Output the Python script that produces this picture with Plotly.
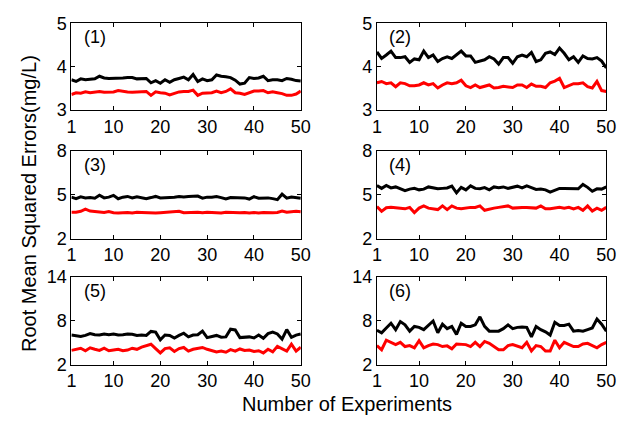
import plotly.graph_objects as go
from plotly.subplots import make_subplots

experiments = list(range(1, 51))

p1_black = [3.70, 3.66, 3.72, 3.70, 3.71, 3.72, 3.78, 3.74, 3.73, 3.73, 3.73, 3.74, 3.75, 3.75, 3.72, 3.72, 3.73, 3.63, 3.68, 3.62,
            3.70, 3.64, 3.70, 3.73, 3.76, 3.70, 3.82, 3.66, 3.72, 3.68, 3.70, 3.81, 3.78, 3.77, 3.75, 3.69, 3.60, 3.62, 3.75, 3.73,
            3.74, 3.78, 3.68, 3.70, 3.70, 3.68, 3.73, 3.71, 3.68, 3.67]
p1_red = [3.36, 3.40, 3.39, 3.42, 3.40, 3.42, 3.43, 3.41, 3.42, 3.42, 3.45, 3.43, 3.42, 3.41, 3.42, 3.43, 3.43, 3.34, 3.42, 3.40,
          3.39, 3.35, 3.39, 3.42, 3.43, 3.43, 3.46, 3.34, 3.39, 3.40, 3.40, 3.44, 3.40, 3.43, 3.49, 3.40, 3.39, 3.36, 3.40, 3.44,
          3.44, 3.45, 3.40, 3.42, 3.40, 3.38, 3.34, 3.34, 3.37, 3.44]

p2_black = [4.34, 4.19, 4.27, 4.36, 4.21, 4.21, 4.23, 4.10, 4.18, 4.16, 4.36, 4.21, 4.27, 4.12, 4.19, 4.23, 4.19, 4.27, 4.36, 4.25,
            4.25, 4.10, 4.13, 4.16, 4.23, 4.18, 4.06, 4.21, 4.21, 4.08, 4.23, 4.27, 4.23, 4.33, 4.12, 4.16, 4.31, 4.34, 4.28, 4.43,
            4.31, 4.16, 4.23, 4.10, 4.25, 4.19, 4.18, 4.21, 4.13, 3.97]
p2_red = [3.63, 3.66, 3.61, 3.63, 3.54, 3.63, 3.61, 3.56, 3.56, 3.58, 3.63, 3.58, 3.61, 3.51, 3.58, 3.63, 3.61, 3.63, 3.69, 3.56,
          3.52, 3.58, 3.52, 3.55, 3.58, 3.51, 3.52, 3.55, 3.54, 3.52, 3.58, 3.58, 3.52, 3.60, 3.55, 3.55, 3.52, 3.63, 3.67, 3.73,
          3.52, 3.56, 3.61, 3.61, 3.63, 3.54, 3.51, 3.66, 3.45, 3.43]

p3_black = [4.85, 4.75, 4.87, 4.80, 4.82, 4.78, 4.98, 4.80, 4.85, 4.97, 4.74, 4.85, 4.90, 4.80, 4.88, 4.82, 4.75, 4.82, 4.90, 4.80,
            4.80, 4.83, 4.85, 4.90, 4.86, 4.90, 4.92, 4.92, 4.78, 4.85, 4.85, 4.90, 4.82, 4.72, 4.82, 4.82, 4.84, 4.80, 4.72, 4.88,
            4.78, 4.80, 4.80, 4.75, 4.68, 5.05, 4.78, 4.86, 4.80, 4.78]
p3_red = [3.82, 3.82, 3.88, 4.03, 3.90, 3.85, 3.85, 3.80, 3.86, 3.78, 3.76, 3.78, 3.80, 3.76, 3.82, 3.80, 3.78, 3.76, 3.76, 3.78,
          3.80, 3.80, 3.85, 3.88, 3.78, 3.80, 3.85, 3.82, 3.78, 3.82, 3.80, 3.80, 3.76, 3.82, 3.80, 3.80, 3.78, 3.80, 3.77, 3.80,
          3.76, 3.80, 3.77, 3.78, 3.80, 3.90, 3.82, 3.85, 3.88, 3.85]

p4_black = [5.65, 5.45, 5.65, 5.48, 5.55, 5.42, 5.30, 5.40, 5.45, 5.35, 5.40, 5.55, 5.50, 5.42, 5.45, 5.48, 5.60, 5.15, 5.52, 5.35,
            5.62, 5.45, 5.42, 5.50, 5.35, 5.55, 5.50, 5.55, 5.45, 5.50, 5.60, 5.48, 5.62, 5.50, 5.38, 5.40, 5.35, 5.20, 5.35, 5.45,
            5.45, 5.45, 5.45, 5.42, 5.72, 5.52, 5.25, 5.42, 5.40, 5.55]
p4_red = [4.20, 3.88, 4.12, 4.15, 4.12, 4.10, 4.05, 4.15, 3.80, 4.10, 4.25, 4.10, 4.05, 4.00, 4.25, 4.00, 4.25, 4.10, 4.05, 4.12,
          4.15, 4.15, 4.25, 3.95, 4.05, 4.10, 4.15, 4.20, 4.25, 4.10, 4.15, 4.15, 4.15, 4.15, 4.10, 4.25, 4.05, 4.05, 4.10, 4.15,
          4.10, 4.15, 4.05, 4.15, 3.95, 4.25, 3.90, 4.10, 3.95, 4.15]

p5_black = [6.05, 5.95, 5.85, 6.00, 6.25, 6.10, 6.05, 6.20, 6.10, 6.20, 6.05, 6.10, 6.20, 6.15, 6.00, 6.05, 6.00, 6.55, 6.45, 5.40,
            6.05, 6.00, 5.65, 6.00, 6.30, 5.80, 6.05, 6.10, 6.60, 5.70, 5.80, 6.00, 5.75, 5.80, 6.85, 6.75, 5.70, 5.70, 5.80, 5.65,
            6.05, 5.60, 6.25, 6.45, 6.20, 5.50, 6.80, 5.75, 6.05, 6.20]
p5_red = [3.95, 4.05, 4.25, 3.90, 4.30, 4.10, 3.95, 4.25, 3.90, 4.00, 4.10, 3.90, 4.00, 4.25, 4.10, 4.40, 4.55, 4.80, 4.20, 3.60,
          4.20, 4.30, 3.80, 4.20, 4.35, 3.85, 4.10, 4.20, 4.35, 4.10, 3.95, 3.75, 3.85, 3.70, 4.05, 3.85, 4.15, 3.95, 4.00, 3.80,
          3.90, 3.60, 4.10, 3.75, 4.50, 4.20, 3.85, 4.80, 3.85, 4.40]

p6_black = [6.71, 6.36, 7.01, 7.67, 6.79, 7.89, 7.45, 6.58, 7.23, 7.10, 6.79, 7.45, 7.97, 6.36, 7.54, 6.93, 7.23, 6.14, 7.67, 7.23,
            7.23, 7.45, 8.54, 7.23, 6.58, 6.58, 6.58, 6.93, 7.45, 6.93, 7.10, 7.15, 7.10, 5.80, 7.23, 6.79, 6.49, 6.05, 7.80, 7.36,
            7.36, 7.54, 6.58, 6.66, 6.58, 6.79, 7.01, 8.24, 7.54, 6.58]
p6_red = [4.61, 4.04, 5.35, 5.05, 4.74, 5.05, 4.48, 4.61, 4.31, 5.27, 4.31, 4.61, 4.83, 4.74, 4.48, 4.57, 4.17, 4.83, 4.74, 4.74,
          4.48, 5.05, 4.48, 5.18, 4.92, 4.48, 4.04, 4.04, 4.61, 4.74, 4.48, 4.31, 5.05, 3.87, 4.61, 4.48, 3.87, 3.87, 5.35, 4.31,
          5.05, 4.74, 4.48, 4.48, 4.83, 4.92, 4.61, 4.31, 4.74, 5.05]

panels = [
    ("(1)", p1_black, p1_red, [3, 5], [3, 4, 5]),
    ("(2)", p2_black, p2_red, [3, 5], [3, 4, 5]),
    ("(3)", p3_black, p3_red, [2, 8], [2, 5, 8]),
    ("(4)", p4_black, p4_red, [2, 8], [2, 5, 8]),
    ("(5)", p5_black, p5_red, [2, 14], [2, 8, 14]),
    ("(6)", p6_black, p6_red, [2, 14], [2, 8, 14]),
]
x_ticks = [1, 10, 20, 30, 40, 50]

W, H = 630, 429
col_px = [(68, 303), (381, 616)]
row_px = [(14, 105), (148, 240), (280, 372)]

FONT = "Liberation Sans, Arial, sans-serif"
fig = make_subplots(rows=3, cols=2)

for i, (label, blk, red, yr, yt) in enumerate(panels):
    r, c = i // 2 + 1, i % 2 + 1
    fig.add_trace(go.Scatter(x=experiments, y=blk, mode="lines",
                             line=dict(color="black", width=3), showlegend=False), row=r, col=c)
    fig.add_trace(go.Scatter(x=experiments, y=red, mode="lines",
                             line=dict(color="red", width=3), showlegend=False), row=r, col=c)
    x0, x1 = col_px[c - 1]
    y0, y1 = row_px[r - 1]
    fig.update_xaxes(range=[1, 50], tickvals=x_ticks, domain=[x0 / W, x1 / W],
                     showline=True, linecolor="black", linewidth=1, mirror="ticks",
                     ticks="inside", ticklen=4, tickcolor="black", showgrid=False, zeroline=False,
                     tickfont=dict(family=FONT, size=18, color="black"), row=r, col=c)
    fig.update_yaxes(range=yr, tickvals=yt, domain=[1 - y1 / H, 1 - y0 / H],
                     showline=True, linecolor="black", linewidth=1, mirror="ticks",
                     ticks="inside", ticklen=4, tickcolor="black", showgrid=False, zeroline=False,
                     tickfont=dict(family=FONT, size=18, color="black"), row=r, col=c)
    axn = "" if i == 0 else str(i + 1)
    fig.add_annotation(text=label, xref=f"x{axn} domain", yref=f"y{axn} domain",
                       x=0.045, y=0.84, xanchor="left", yanchor="middle", showarrow=False,
                       font=dict(family=FONT, size=18, color="black"))

fig.add_annotation(text="Number of Experiments", xref="paper", yref="paper",
                   x=350 / W, y=1 - 413 / H, xanchor="center", yanchor="middle", showarrow=False,
                   font=dict(family=FONT, size=20, color="black"))
fig.add_annotation(text="Root Mean Squared Errors(mg/L)", xref="paper", yref="paper",
                   x=24 / W, y=1 - 203 / H, xanchor="center", yanchor="middle", showarrow=False,
                   textangle=-90, font=dict(family=FONT, size=20, color="black"))

fig.update_layout(width=W, height=H, margin=dict(l=0, r=0, t=0, b=0),
                  paper_bgcolor="white", plot_bgcolor="white",
                  font=dict(family=FONT, size=18, color="black"))

fig.write_html("out.html", config={"displayModeBar": False},
               post_script="document.body.style.margin='0';document.body.style.overflow='hidden';")
